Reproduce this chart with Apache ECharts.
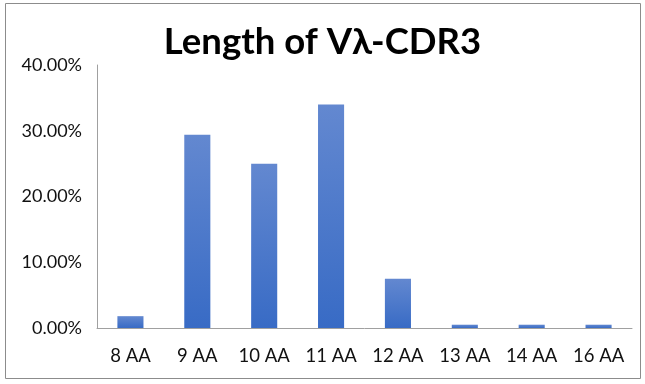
<!DOCTYPE html>
<html><head><meta charset="utf-8">
<script src="https://cdn.jsdelivr.net/npm/echarts@6/dist/echarts.min.js"></script>
<style>html,body{margin:0;padding:0;background:#fff}#c{width:645px;height:384px}</style>
</head><body><div id="c"></div>
<script>
const categories = ['8 AA','9 AA','10 AA','11 AA','12 AA','13 AA','14 AA','16 AA'];
const values = [1.8, 29.4, 25.0, 34.0, 7.5, 0.5, 0.5, 0.5];
const yTicks = [0, 10, 20, 30, 40];
const chart = echarts.init(document.getElementById('c'));
chart.setOption({
  animation: false,
  title: { text: 'Length of Vλ-CDR3', left: 'center', top: 19,
    textStyle: { fontFamily: 'Lato', fontWeight: 'bold', fontSize: 36.5, color: '#000' } },
  graphic: [{ type: 'rect', shape: { x: 5.5, y: 3.5, width: 635, height: 375 },
    style: { fill: 'none', stroke: '#8c8c8c', lineWidth: 1 }, silent: true }],
  grid: { left: 97, right: 13, top: 65, bottom: 56 },
  xAxis: { type: 'category', data: categories,
    axisLine: { lineStyle: { color: '#a0a0a0' } }, axisTick: { show: false },
    axisLabel: { fontFamily: 'Lato', fontSize: 18.5, color: '#111', margin: 19 } },
  yAxis: { type: 'value', min: 0, max: 40, interval: 10,
    axisLine: { show: true, lineStyle: { color: '#a0a0a0' } }, axisTick: { show: false },
    splitLine: { show: false },
    axisLabel: { fontFamily: 'Lato', fontSize: 18, color: '#111', margin: 15,
      formatter: v => yTicks.includes(v) ? v.toFixed(2) + '%' : '' } },
  series: [{ type: 'bar', data: values, barWidth: '39%',
    itemStyle: { color: new echarts.graphic.LinearGradient(0, 0, 0, 1, [
      { offset: 0, color: '#6388d0' }, { offset: 1, color: '#386bc5' }]) } }]
});
</script></body></html>
